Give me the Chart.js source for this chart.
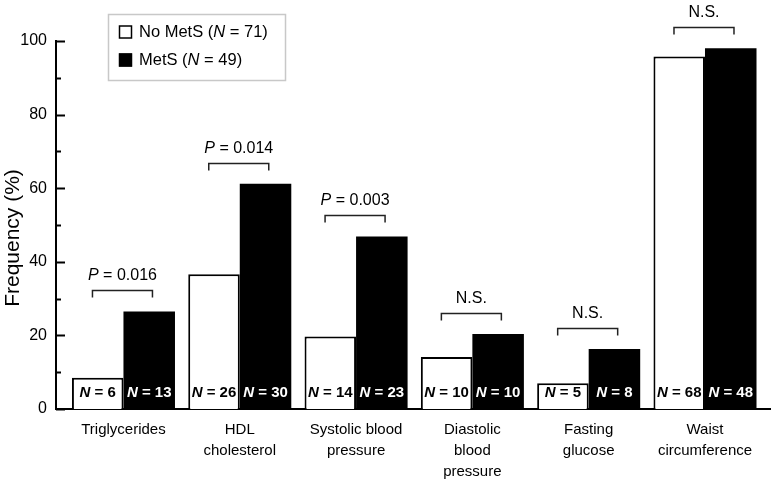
<!DOCTYPE html>
<html>
<head>
<meta charset="utf-8">
<script src="https://cdn.jsdelivr.net/npm/chart.js@4"></script>
<style>
  html, body { margin: 0; padding: 0; background: #fff; }
  #wrap { width: 771px; height: 484px; }
</style>
</head>
<body>
<div id="wrap"><canvas id="chart" width="771" height="484"></canvas></div>
<script>
// categories and values
const categories = [
  ["Triglycerides"],
  ["HDL", "cholesterol"],
  ["Systolic blood", "pressure"],
  ["Diastolic", "blood", "pressure"],
  ["Fasting", "glucose"],
  ["Waist", "circumference"]
];
const noMetsPct = [8.5, 36.6, 19.7, 14.1, 7.0, 95.8];
const metsPct = [26.5, 61.2, 46.9, 20.4, 16.3, 98.0];
const noMetsN = [6, 26, 14, 10, 5, 68];
const metsN = [13, 30, 23, 10, 8, 48];
const pLabels = ["0.016", "0.014", "0.003", "N.S.", "N.S.", "N.S."];
const yTicks = [0, 20, 40, 60, 80, 100];

const FONT = "'Liberation Sans', Arial, sans-serif";
Chart.defaults.font.family = FONT;
Chart.defaults.color = "#000";

// draws the things Chart.js has no built-in for: inward ticks, N labels, brackets, legend, y title
const extras = {
  id: "extras",
  afterDatasetsDraw(chart) {
    const ctx = chart.ctx;
    const area = chart.chartArea;
    const y = chart.scales.y;
    ctx.save();

    // inward ticks on y axis
    ctx.strokeStyle = "#000";
    ctx.lineWidth = 2;
    for (let v = 0; v <= 100; v += 10) {
      const py = Math.round(y.getPixelForValue(v)) + 0.5;
      const len = v % 20 === 0 ? 9 : 5;
      ctx.beginPath();
      ctx.moveTo(area.left, py);
      ctx.lineTo(area.left + len, py);
      ctx.stroke();
    }

    // "N = x" labels inside bars
    const m0 = chart.getDatasetMeta(0);
    const m1 = chart.getDatasetMeta(1);
    function nLabel(cx, n, color) {
      const fa = "italic bold 15px " + FONT;
      const fb = "bold 15px " + FONT;
      ctx.font = fa;
      const w1 = ctx.measureText("N").width;
      ctx.font = fb;
      const rest = " = " + n;
      const w2 = ctx.measureText(rest).width;
      const x0 = cx - (w1 + w2) / 2;
      const ty = area.bottom - 16;
      ctx.fillStyle = color;
      ctx.textBaseline = "middle";
      ctx.textAlign = "left";
      ctx.font = fa;
      ctx.fillText("N", x0, ty);
      ctx.font = fb;
      ctx.fillText(rest, x0 + w1, ty);
    }
    categories.forEach((c, i) => {
      nLabel(m0.data[i].x, noMetsN[i], "#000");
      nLabel(m1.data[i].x, metsN[i], "#fff");
    });

    // brackets with p values
    ctx.strokeStyle = "#222";
    ctx.lineWidth = 1.5;
    categories.forEach((c, i) => {
      const gx = (m0.data[i].x + m1.data[i].x) / 2 - 1;
      const top = Math.min(m0.data[i].y, m1.data[i].y);
      const by = Math.round(top - 21) + 0.5;
      ctx.beginPath();
      ctx.moveTo(gx - 30, by + 7);
      ctx.lineTo(gx - 30, by);
      ctx.lineTo(gx + 30, by);
      ctx.lineTo(gx + 30, by + 7);
      ctx.stroke();

      const ty = by - 15;
      ctx.fillStyle = "#000";
      ctx.textBaseline = "middle";
      const lab = pLabels[i];
      if (lab === "N.S.") {
        ctx.font = "16px " + FONT;
        ctx.textAlign = "center";
        ctx.fillText(lab, gx, ty);
      } else {
        const a = "italic 16px " + FONT, b = "16px " + FONT;
        ctx.font = a;
        const w1 = ctx.measureText("P").width;
        ctx.font = b;
        const rest = " = " + lab;
        const w2 = ctx.measureText(rest).width;
        const x0 = gx - (w1 + w2) / 2;
        ctx.textAlign = "left";
        ctx.font = a;
        ctx.fillText("P", x0, ty);
        ctx.font = b;
        ctx.fillText(rest, x0 + w1, ty);
      }
    });

    // legend box
    ctx.strokeStyle = "#c8c8c8";
    ctx.lineWidth = 1.5;
    ctx.strokeRect(108.5, 14.5, 177, 66);
    const entries = [
      { name: "No MetS (", n: "71", fill: "#fff", cy: 32 },
      { name: "MetS (", n: "49", fill: "#000", cy: 60 }
    ];
    entries.forEach(e => {
      ctx.fillStyle = e.fill;
      ctx.fillRect(119, e.cy - 6.5, 13, 13);
      ctx.strokeStyle = "#000";
      ctx.lineWidth = 1.5;
      ctx.strokeRect(119.5, e.cy - 6, 12, 12);
      ctx.fillStyle = "#000";
      ctx.textAlign = "left";
      ctx.textBaseline = "middle";
      let x = 139;
      const parts = [[e.name, ""], ["N", "italic "], [" = " + e.n + ")", ""]];
      parts.forEach(p => {
        ctx.font = p[1] + "16.5px " + FONT;
        ctx.fillText(p[0], x, e.cy);
        x += ctx.measureText(p[0]).width;
      });
    });

    // y axis title
    ctx.translate(13, 238);
    ctx.rotate(-Math.PI / 2);
    ctx.font = "21px " + FONT;
    ctx.textAlign = "center";
    ctx.textBaseline = "middle";
    ctx.fillStyle = "#000";
    ctx.fillText("Frequency (%)", 0, 0);

    ctx.restore();
  }
};

new Chart(document.getElementById("chart"), {
  type: "bar",
  data: {
    datasets: [
      {
        label: "No MetS",
        data: noMetsPct.map((v, i) => ({ x: i, y: v })),
        backgroundColor: "#fff",
        borderColor: "#000",
        borderWidth: 2,
        borderSkipped: "bottom"
      },
      {
        label: "MetS",
        data: metsPct.map((v, i) => ({ x: i, y: v })),
        backgroundColor: "#000",
        borderColor: "#000",
        borderWidth: 0
      }
    ]
  },
  options: {
    responsive: false,
    animation: false,
    categoryPercentage: 0.886,
    barPercentage: 1.0,
    layout: { padding: { top: 41, right: 1, left: 0, bottom: 0 } },
    plugins: { legend: { display: false }, tooltip: { enabled: false } },
    scales: {
      x: {
        type: "linear",
        offset: false,
        min: -0.58,
        max: 5.559,
        afterBuildTicks: s => { s.ticks = categories.map((c, i) => ({ value: i })); },
        afterFit: s => { s.height = 75; },
        grid: { display: false, drawTicks: false, offset: false },
        border: { display: true, color: "#000", width: 2 },
        ticks: {
          autoSkip: false,
          maxRotation: 0,
          padding: 10,
          font: { size: 15, lineHeight: 1.4 },
          color: "#000",
          callback: v => categories[v]
        }
      },
      y: {
        min: 0,
        max: 100,
        afterBuildTicks: s => { s.ticks = yTicks.map(v => ({ value: v })); },
        afterFit: s => { s.width = 56; },
        grid: { display: false, drawTicks: false },
        border: { display: true, color: "#000", width: 2 },
        ticks: { padding: 9, font: { size: 16 }, color: "#000" }
      }
    }
  },
  plugins: [extras]
});
</script>
</body>
</html>
